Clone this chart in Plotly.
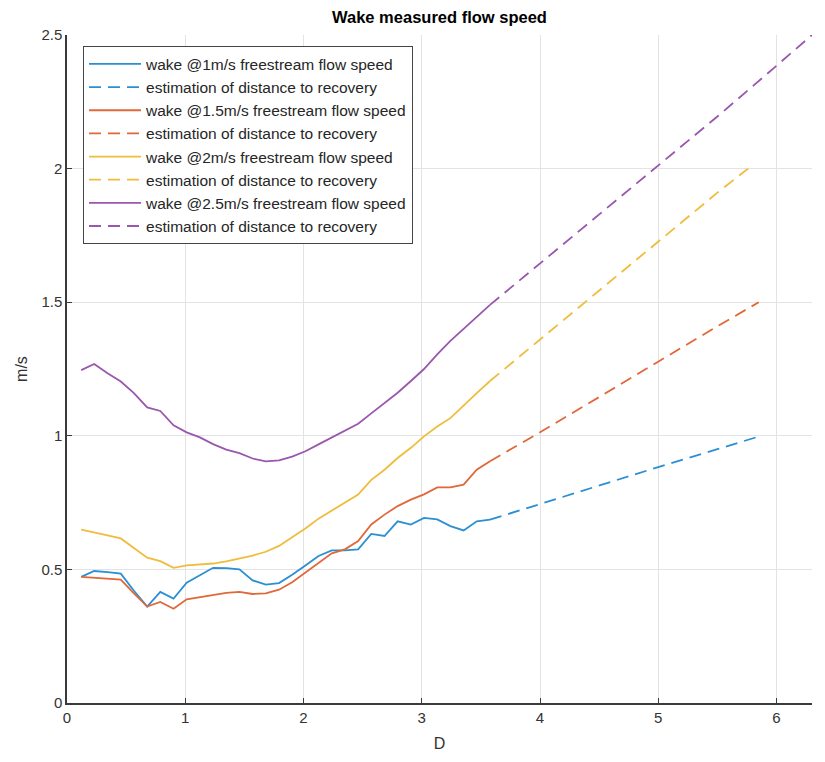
import plotly.graph_objects as go

# Downstream distance (rotor diameters) of the measurement stations
x_meas = [0.12, 0.23, 0.343, 0.455, 0.566, 0.678, 0.789, 0.901, 1.012, 1.124,
          1.235, 1.347, 1.458, 1.57, 1.681, 1.793, 1.904, 2.016, 2.127, 2.239,
          2.35, 2.462, 2.573, 2.685, 2.796, 2.908, 3.019, 3.131, 3.242, 3.354,
          3.465, 3.577]

# Measured wake speed (m/s) for each freestream speed
wake_1 = [0.472, 0.494, 0.49, 0.484, 0.42, 0.361, 0.416, 0.391, 0.45, 0.479,
          0.506, 0.505, 0.5, 0.459, 0.443, 0.449, 0.48, 0.515, 0.55, 0.571,
          0.571, 0.575, 0.633, 0.625, 0.68, 0.668, 0.693, 0.687, 0.662, 0.646,
          0.68, 0.686]
wake_15 = [0.472, 0.468, 0.465, 0.462, 0.41, 0.361, 0.378, 0.353, 0.388, 0.396,
           0.404, 0.412, 0.416, 0.408, 0.41, 0.424, 0.452, 0.488, 0.525, 0.56,
           0.575, 0.606, 0.668, 0.705, 0.737, 0.761, 0.781, 0.807, 0.807, 0.817,
           0.873, 0.905]
wake_2 = [0.649, 0.637, 0.627, 0.616, 0.58, 0.544, 0.531, 0.506, 0.515, 0.519,
          0.522, 0.53, 0.541, 0.552, 0.566, 0.588, 0.62, 0.653, 0.69, 0.72,
          0.75, 0.78, 0.835, 0.873, 0.917, 0.955, 0.998, 1.035, 1.066, 1.115,
          1.16, 1.205]
wake_25 = [1.246, 1.269, 1.234, 1.203, 1.16, 1.106, 1.093, 1.039, 1.013, 0.994,
           0.969, 0.948, 0.935, 0.915, 0.904, 0.908, 0.922, 0.942, 0.968, 0.994,
           1.019, 1.045, 1.084, 1.123, 1.161, 1.205, 1.25, 1.305, 1.355, 1.40,
           1.445, 1.49]

# Extrapolated recovery estimates
est_x_1 = [3.577, 4.0, 4.5, 5.0, 5.5, 5.87]
est_1 = [0.686, 0.745, 0.815, 0.883, 0.95, 1.0]
est_x_15 = [3.577, 4.0, 4.5, 5.0, 5.5, 5.85]
est_15 = [0.905, 1.013, 1.145, 1.278, 1.41, 1.5]
est_x_2 = [3.577, 4.0, 4.5, 5.0, 5.5, 5.76]
est_2 = [1.205, 1.36, 1.543, 1.727, 1.91, 2.0]
est_x_25 = [3.577, 4.0, 4.5, 5.0, 5.5, 6.0, 6.3]
est_25 = [1.49, 1.645, 1.83, 2.01, 2.195, 2.385, 2.5]

speeds = ["1", "1.5", "2", "2.5"]
colors = ["#2b8fd3", "#e0683a", "#efbc3c", "#9957ad"]

series = [
    (x_meas, wake_1, est_x_1, est_1),
    (x_meas, wake_15, est_x_15, est_15),
    (x_meas, wake_2, est_x_2, est_2),
    (x_meas, wake_25, est_x_25, est_25),
]

FONT = "Liberation Sans, Arial, sans-serif"

fig = go.Figure()
for spd, col, (xm, ym, xe, ye) in zip(speeds, colors, series):
    fig.add_trace(go.Scatter(
        x=xm, y=ym, mode="lines",
        name=f"wake @{spd}m/s freestream flow speed",
        line=dict(color=col, width=1.8),
    ))
    fig.add_trace(go.Scatter(
        x=xe, y=ye, mode="lines",
        name="estimation of distance to recovery",
        line=dict(color=col, width=1.8, dash="12px,7px"),
    ))

axis_common = dict(
    showgrid=True, gridcolor="#e3e3e3", gridwidth=1,
    showline=True, linecolor="#3a3a3a", linewidth=1.5,
    ticks="inside", ticklen=5, tickcolor="#3a3a3a", tickwidth=1,
    zeroline=False, mirror=False,
    tickfont=dict(family=FONT, size=15, color="#333333"),
)

fig.update_layout(
    width=825, height=762,
    margin=dict(l=67, r=13, t=35, b=56),
    paper_bgcolor="white", plot_bgcolor="white",
    title=dict(
        text="<b>Wake measured flow speed</b>",
        x=(67 + 812) / 2 / 825, xanchor="center",
        y=1 - 17 / 762, yanchor="middle",
        font=dict(family=FONT, size=16.5, color="#000000"),
    ),
    xaxis=dict(
        range=[0, 6.3], tickvals=[0, 1, 2, 3, 4, 5, 6],
        title=dict(text="D", standoff=13,
                   font=dict(family=FONT, size=16, color="#333333")),
        **axis_common,
    ),
    yaxis=dict(
        range=[0, 2.5], tickvals=[0, 0.5, 1, 1.5, 2, 2.5],
        ticktext=["0", "0.5", "1", "1.5", "2", "2.5"],
        title=dict(text="m/s", standoff=10,
                   font=dict(family=FONT, size=16, color="#333333")),
        **axis_common,
    ),
    legend=dict(
        x=0.0215, y=0.983, xanchor="left", yanchor="top",
        bgcolor="white", bordercolor="#444444", borderwidth=1,
        font=dict(family=FONT, size=15.5, color="#262626"),
        itemwidth=52, tracegroupgap=0,
    ),
    showlegend=True,
)

fig.write_html("out.html")
